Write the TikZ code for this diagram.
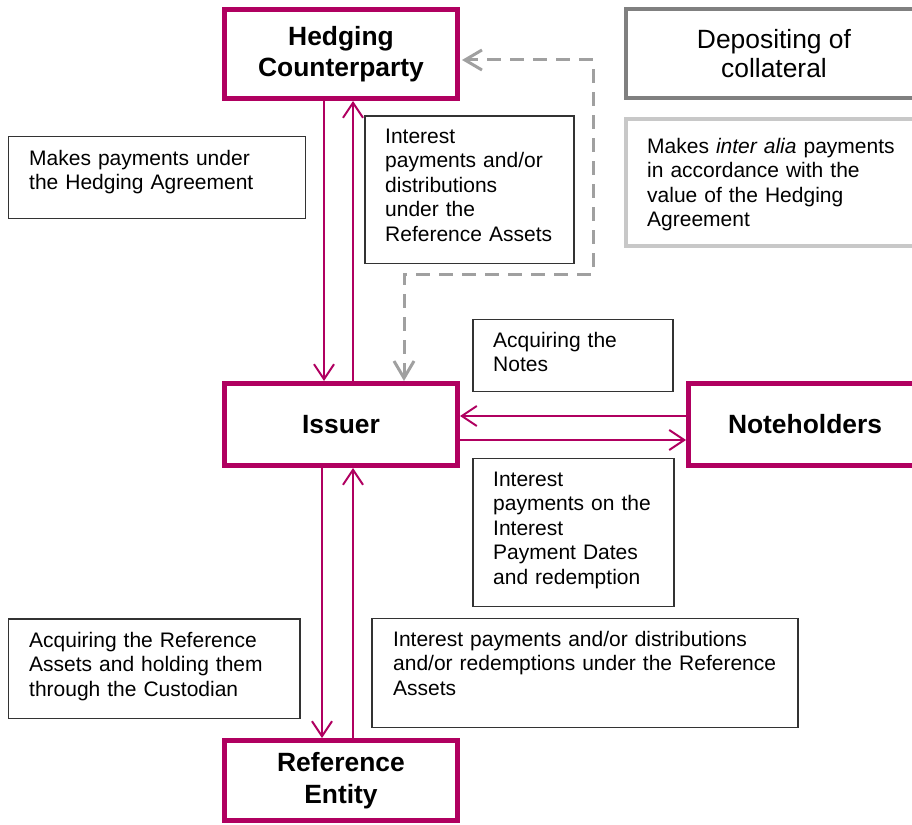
\documentclass[tikz,border=0pt]{standalone}
\usepackage{fontspec}
\setmainfont{Liberation Sans}
\usetikzlibrary{arrows.meta}
\definecolor{mag}{RGB}{176,0,96}
\definecolor{dgray}{RGB}{160,160,160}
\definecolor{gborder}{RGB}{128,128,128}
\definecolor{lgborder}{RGB}{200,200,200}
\tikzset{
 titlebox/.style={draw=mag, line width=5pt, minimum width=233pt, inner sep=0pt, align=center, font=\fontsize{26.4}{31.5}\selectfont\bfseries},
 thinbox/.style={draw=black!80, line width=1.3pt, inner sep=0pt},
 bodytext/.style={anchor=base west, inner sep=0pt, text width=420pt, align=left, font=\fontsize{21}{24.6}\selectfont},
 marr/.style={draw=mag, line width=2pt, -{Straight Barb[length=15pt,width=20pt]}},
 darr/.style={draw=dgray, line width=3pt, dash pattern=on 14pt off 9pt, {Straight Barb[length=17pt,width=20pt]}-{Straight Barb[length=17pt,width=20pt]}},
}
\begin{document}
\begin{tikzpicture}[x=1pt,y=-1pt]
\useasboundingbox (0,0) rectangle (912,824);
\clip (0,0) rectangle (912,824);

% main parties
\node[titlebox, minimum height=89pt] (hc) at (341,54) {Hedging\\Counterparty};
\node[titlebox, minimum height=82pt] (iss) at (341,424.5) {Issuer};
\node[titlebox, minimum height=82pt] (nh) at (805,424.5) {Noteholders};
\node[titlebox, minimum height=80pt] (re) at (341,780.5) {Reference\\Entity};

% collateral boxes
\node[draw=gborder, line width=4pt, minimum width=296pt, minimum height=89pt, inner sep=0pt, align=center, font=\fontsize{26.4}{29}\selectfont] (dep) at (774,53.5) {Depositing of\\collateral};
\node[draw=lgborder, line width=4pt, minimum width=296pt, minimum height=127pt, inner sep=0pt] (ia) at (774,182.5) {};
\node[bodytext] (iat) at (647,153) {Makes \textit{inter alia} payments\\in accordance with the\\value of the Hedging\\Agreement};

% label boxes
\node[thinbox, minimum width=297pt, minimum height=82pt] (b1) at (157,177.5) {};
\node[bodytext] (b1t) at (29,165) {Makes payments under\\the Hedging Agreement};

\node[thinbox, minimum width=209pt, minimum height=147.5pt] (b2) at (469.5,189.75) {};
\node[bodytext] (b2t) at (385,143) {Interest\\payments and/or\\distributions\\under the\\Reference Assets};

\node[thinbox, minimum width=200pt, minimum height=72pt] (b3) at (573,355.5) {};
\node[bodytext] (b3t) at (493,347) {Acquiring the\\Notes};

\node[thinbox, minimum width=201pt, minimum height=148pt] (b4) at (573.5,532.5) {};
\node[bodytext] (b4t) at (493,486) {Interest\\payments on the\\Interest\\Payment Dates\\and redemption};

\node[thinbox, minimum width=426pt, minimum height=109pt] (b5) at (585,673) {};
\node[bodytext] (b5t) at (393,646) {Interest payments and/or distributions\\and/or redemptions under the Reference\\Assets};

\node[thinbox, minimum width=291.5pt, minimum height=99.5pt] (b6) at (154.25,668.75) {};
\node[bodytext] (b6t) at (29,647) {Acquiring the Reference\\Assets and holding them\\through the Custodian};

% helper coordinates
\coordinate (xa) at (324,0);
\coordinate (xb) at (353,0);
\coordinate (xc) at (322,0);
\coordinate (xd) at (404,0);
\coordinate (ya) at (0,416);
\coordinate (yb) at (0,440);
\coordinate (dc1) at (593,274);
\coordinate (dc2) at (593,60);

% connectors
\draw[marr] (hc.south -| xa) -- (iss.north -| xa);
\draw[marr] (iss.north -| xb) -- (hc.south -| xb);
\draw[marr] (nh.west |- ya) -- (iss.east |- ya);
\draw[marr] (iss.east |- yb) -- (nh.west |- yb);
\draw[marr] (iss.south -| xc) -- (re.north -| xc);
\draw[marr] (re.north -| xb) -- (iss.south -| xb);
\draw[darr] (iss.north -| xd) -- (xd |- dc1) -- (dc1) -- (dc2) -- ([xshift=2pt]hc.east |- dc2);
\end{tikzpicture}
\end{document}
